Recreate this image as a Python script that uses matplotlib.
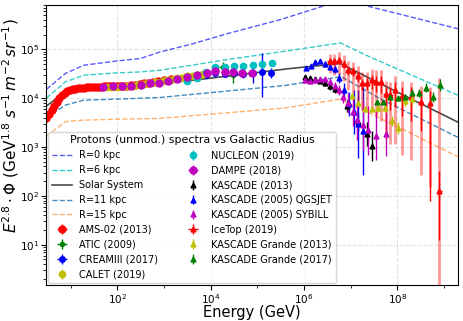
import numpy as np
import matplotlib
matplotlib.use('Agg')
import matplotlib.pyplot as plt
from matplotlib.ticker import FixedLocator, NullFormatter

width_px = 463
height_px = 321
dpi = 100

# propagated proton spectra, log10(E/GeV) vs log10(E^2.8 * flux)
r0_logE = [0.48, 0.886, 1.278, 1.994, 2.49, 2.92, 3.63, 4.36, 5.49, 6.84, 7.63, 9.30]
r0_logF = [4.18, 4.504, 4.673, 4.761, 4.81, 4.945, 5.116, 5.32, 5.606, 6.01, 5.82, 5.42]

r6_logE = [0.48, 0.886, 1.278, 1.99, 2.49, 2.92, 4.36, 5.49, 6.78, 7.42, 9.30]
r6_logF = [4.00, 4.333, 4.469, 4.517, 4.537, 4.571, 4.79, 4.945, 5.13, 4.84, 4.06]

sun_logE = [0.48, 0.886, 1.278, 2.0, 2.5, 3.0, 3.63, 5.70, 6.78, 7.63, 9.30]
sun_logF = [3.84, 4.13, 4.198, 4.23, 4.26, 4.31, 4.367, 4.606, 4.708, 4.30, 3.51]

r11_logE = [0.48, 0.886, 1.278, 1.99, 2.92, 5.6, 6.8, 7.63, 9.30]
r11_logF = [3.60, 3.857, 3.959, 3.98, 4.014, 4.26, 4.44, 3.99, 3.20]

r15_logE = [0.48, 0.886, 1.278, 2.0, 2.92, 5.6, 6.78, 8.0, 9.30]
r15_logF = [3.22, 3.52, 3.55, 3.57, 3.586, 3.80, 3.98, 3.42, 2.80]

# measurements (E in GeV, E^2.8 flux)
ams_E = [3.0, 3.4, 3.9, 4.4, 5.0, 5.7, 6.5, 7.4, 8.5, 9.7, 11, 12.6, 14.4, 16.5, 19, 22, 25, 29, 33,
         38, 44, 51, 60, 70, 82, 97, 115, 138, 165, 200, 245, 300, 370, 460, 580, 750, 1000, 1400]
ams_F = [3.9e3, 4.7e3, 5.7e3, 6.9e3, 8.3e3, 1.0e4, 1.15e4, 1.26e4, 1.39e4, 1.45e4, 1.52e4, 1.55e4,
         1.59e4, 1.63e4, 1.65e4, 1.68e4, 1.68e4, 1.70e4, 1.72e4, 1.73e4, 1.73e4, 1.74e4, 1.74e4,
         1.75e4, 1.77e4, 1.77e4, 1.77e4, 1.78e4, 1.81e4, 1.84e4, 1.88e4, 1.93e4, 2.0e4, 2.07e4,
         2.1e4, 2.2e4, 2.3e4, 2.45e4]

atic_logE = [1.7, 1.9, 2.1, 2.3, 2.5, 2.7, 2.9, 3.1, 3.3, 3.5, 3.7, 3.9, 4.1, 4.27, 4.48]
atic_F = [1.72e4, 1.76e4, 1.8e4, 1.85e4, 1.95e4, 2.05e4, 2.2e4, 2.4e4, 2.64e4, 2.95e4, 3.1e4,
          3.4e4, 3.8e4, 4.4e4, 2.95e4]
atic_err = [0.02, 0.02, 0.02, 0.02, 0.02, 0.03, 0.03, 0.03, 0.04, 0.04, 0.05, 0.06, 0.08, 0.1, 0.15]

cream_logE = [3.11, 3.30, 3.5, 3.7, 3.9, 4.1, 4.3, 4.5, 4.7, 4.9, 5.1, 5.3]
cream_F = [2.25e4, 2.45e4, 2.65e4, 2.85e4, 3.0e4, 3.2e4, 3.1e4, 3.25e4, 3.1e4, 3.2e4, 3.4e4, 3.3e4]
cream_up = [0.02, 0.02, 0.02, 0.02, 0.03, 0.03, 0.04, 0.05, 0.06, 0.15, 0.4, 0.1]
cream_dn = [0.02, 0.02, 0.02, 0.02, 0.03, 0.03, 0.04, 0.05, 0.07, 0.2, 0.5, 0.1]

calet_E = [50, 60, 72, 86, 103, 124, 149, 179, 215, 258, 310, 372, 447, 537, 645, 775, 930, 1120,
           1340, 1610, 1930, 2320, 2780, 3340, 4010, 4800, 5800, 7000]
calet_F = [1.68e4, 1.70e4, 1.71e4, 1.72e4, 1.73e4, 1.74e4, 1.76e4, 1.78e4, 1.80e4, 1.84e4, 1.88e4,
           1.94e4, 2.0e4, 2.05e4, 2.1e4, 2.17e4, 2.22e4, 2.3e4, 2.38e4, 2.45e4, 2.55e4, 2.62e4,
           2.7e4, 2.78e4, 2.85e4, 2.95e4, 3.0e4, 3.1e4]

nucleon_logE = [3.50, 3.71, 3.91, 4.10, 4.31, 4.51, 4.70, 4.91, 5.10, 5.32]
nucleon_F = [2.22e4, 2.62e4, 3.39e4, 4.3e4, 4.36e4, 4.57e4, 4.57e4, 4.79e4, 5.1e4, 5.25e4]

dampe_logE = [1.70, 1.914, 2.107, 2.30, 2.514, 2.71, 2.90, 3.09, 3.285, 3.50, 3.71, 3.93, 4.10,
              4.31, 4.48, 4.68, 4.89]
dampe_F = [1.70e4, 1.76e4, 1.78e4, 1.78e4, 1.87e4, 2.0e4, 2.09e4, 2.26e4, 2.5e4, 2.72e4, 3.0e4,
           3.34e4, 3.55e4, 3.44e4, 3.4e4, 3.34e4, 3.3e4]

kas13_logE = [6.026, 6.133, 6.24, 6.347, 6.454, 6.561, 6.668, 6.925, 7.16, 7.353, 7.46]
kas13_F = [2.68e4, 2.56e4, 2.41e4, 2.26e4, 2.0e4, 1.76e4, 1.51e4, 6.9e3, 3.24e3, 1.84e3, 1.05e3]
kas13_err = [0.04, 0.04, 0.05, 0.05, 0.06, 0.07, 0.08, 0.12, 0.18, 0.25, 0.3]

qgs_logE = [6.047, 6.154, 6.24, 6.347, 6.454, 6.561, 6.668, 6.754, 6.861, 6.968, 7.075, 7.16, 7.268]
qgs_F = [4.09e4, 4.5e4, 5.5e4, 5.77e4, 4.94e4, 4.36e4, 3.91e4, 2.59e4, 1.46e4, 7.55e3, 5.18e3,
         2.94e3, 2.12e3]
qgs_err = [0.04, 0.04, 0.05, 0.05, 0.06, 0.07, 0.08, 0.1, 0.15, 0.25, 0.45, 0.7, 0.9]

syb_logE = [6.026, 6.133, 6.24, 6.347, 6.454, 6.561, 6.668, 6.754, 6.84, 6.946, 7.053, 7.139,
            7.268, 7.375, 7.546, 7.76]
syb_F = [2.33e4, 2.22e4, 2.33e4, 2.44e4, 2.41e4, 2.15e4, 1.76e4, 1.46e4, 1.06e4, 7.9e3, 5.25e3,
         3.56e3, 2.81e3, 2.22e3, 1.70e3, 1.84e3]
syb_err = [0.05, 0.05, 0.05, 0.05, 0.06, 0.07, 0.08, 0.1, 0.13, 0.2, 0.3, 0.4, 0.5, 0.5, 0.5, 0.45]

ice_logE = [6.55, 6.65, 6.75, 6.85, 6.95, 7.05, 7.15, 7.25, 7.35, 7.45, 7.55, 7.65, 7.75, 7.85,
            7.95, 8.1, 8.3, 8.5, 8.7, 8.9]
ice_F = [5.77e4, 5.77e4, 6.1e4, 5.1e4, 3.73e4, 3.56e4, 2.81e4, 2.05e4, 2.05e4, 2.33e4, 2.15e4,
         2.12e4, 1.21e4, 1.15e4, 1.46e4, 1.10e4, 1.06e4, 8.4e3, 7.8e3, 128]
ice_stat_up = [0.06, 0.06, 0.06, 0.07, 0.07, 0.08, 0.08, 0.09, 0.1, 0.1, 0.12, 0.12, 0.14, 0.15,
               0.16, 0.18, 0.2, 0.22, 0.25, 0.4]
ice_stat_dn = [0.08, 0.08, 0.08, 0.09, 0.1, 0.1, 0.12, 0.14, 0.15, 0.17, 0.2, 0.22, 0.25, 0.3,
               0.35, 0.4, 0.5, 0.6, 2.0, 1.0]
ice_sys_up = [0.15, 0.15, 0.16, 0.17, 0.18, 0.18, 0.2, 0.22, 0.22, 0.22, 0.24, 0.25, 0.26, 0.27,
              0.28, 0.3, 0.3, 0.32, 0.34, 2.3]
ice_sys_dn = [0.25, 0.28, 0.3, 0.35, 0.4, 0.45, 0.5, 0.55, 0.6, 0.6, 0.7, 0.8, 0.9, 1.0, 1.1,
              1.2, 1.3, 1.5, 1.7, 2.0]

kg13_logE = [7.032, 7.16, 7.31, 7.46, 7.59, 7.74, 7.89, 8.017, 8.167, 8.317]
kg13_F = [1.11e4, 7.8e3, 5.88e3, 5.88e3, 6.16e3, 6.16e3, 3.44e3, 2.41e3, 8.8e3, 9.4e3]
kg13_err = [0.05, 0.05, 0.06, 0.06, 0.07, 0.08, 0.1, 0.12, 0.1, 0.12]

kg17_logE = [7.567, 7.696, 7.846, 8.017, 8.167, 8.317, 8.467, 8.617, 8.767, 8.917]
kg17_F = [8.4e3, 8.4e3, 1.06e4, 9.9e3, 1.06e4, 1.28e4, 1.28e4, 1.65e4, 1.06e4, 1.84e4]
kg17_err = [0.04, 0.04, 0.05, 0.05, 0.06, 0.07, 0.08, 0.09, 0.1, 0.12]

x_major = [1e2, 1e4, 1e6, 1e8]
x_minor = [1e1, 1e3, 1e5, 1e7, 1e9]


def dex_err(F, up, dn=None):
    F = np.array(F)
    up = np.array(up)
    dn = up if dn is None else np.array(dn)
    return [F * (1 - 10**-dn), F * (10**up - 1)]


def xbin(logE, half):
    E = 10**np.array(logE)
    return [E * (1 - 10**-half), E * (10**half - 1)]


fig, ax = plt.subplots(figsize=(width_px / dpi, height_px / dpi), dpi=dpi)
fig.subplots_adjust(left=0.100, right=0.989, bottom=0.112, top=0.984)

ax.plot(10**np.array(r0_logE), 10**np.array(r0_logF), '--', color='blue', alpha=0.65, lw=1, label='R=0 kpc')
ax.plot(10**np.array(r6_logE), 10**np.array(r6_logF), '--', color='c', alpha=0.8, lw=1, label='R=6 kpc')
ax.plot(10**np.array(sun_logE), 10**np.array(sun_logF), '-', color='k', alpha=0.7, lw=1.2, label='Solar System')
ax.plot(10**np.array(r11_logE), 10**np.array(r11_logF), '--', color='tab:blue', alpha=0.85, lw=1, label='R=11 kpc')
ax.plot(10**np.array(r15_logE), 10**np.array(r15_logF), '--', color='tab:orange', alpha=0.6, lw=1, label='R=15 kpc')

ams_E = np.array(ams_E)
ax.errorbar(ams_E, ams_F, xerr=[ams_E * 0.05, ams_E * 0.05], yerr=np.array(ams_F) * 0.02,
            fmt='o', color='red', ms=5, lw=1, label='AMS-02 (2013)')
ax.errorbar(10**np.array(atic_logE), atic_F, xerr=xbin(atic_logE, 0.08), yerr=dex_err(atic_F, atic_err),
            fmt='o', color='g', ms=3, lw=1, label='ATIC (2009)')
ax.errorbar(10**np.array(cream_logE), cream_F, xerr=xbin(cream_logE, 0.05),
            yerr=dex_err(cream_F, cream_up, cream_dn), fmt='o', color='blue', ms=4, lw=1, label='CREAMIII (2017)')
ax.errorbar(calet_E, calet_F, yerr=np.array(calet_F) * 0.03,
            fmt='o', color='y', ms=4.5, lw=1, label='CALET (2019)')
ax.errorbar(10**np.array(nucleon_logE), nucleon_F, yerr=dex_err(nucleon_F, [0.03] * 10),
            fmt='o', color='c', ms=4.5, lw=1, label='NUCLEON (2019)')
ax.errorbar(10**np.array(dampe_logE), dampe_F, xerr=xbin(dampe_logE, 0.08), yerr=np.array(dampe_F) * 0.03,
            fmt='o', color='m', ms=5, lw=1, label='DAMPE (2018)')
ax.errorbar(10**np.array(kas13_logE), kas13_F, yerr=dex_err(kas13_F, kas13_err),
            fmt='^', color='k', ms=3.5, lw=1, label='KASCADE (2013)')
ax.errorbar(10**np.array(qgs_logE), qgs_F, yerr=dex_err(qgs_F, qgs_err),
            fmt='^', color='blue', ms=3.5, lw=1, label='KASCADE (2005) QGSJET')
ax.errorbar(10**np.array(syb_logE), syb_F, yerr=dex_err(syb_F, syb_err),
            fmt='^', color='m', ms=3.5, lw=1, label='KASCADE (2005) SYBILL')
ax.errorbar(10**np.array(ice_logE), ice_F, yerr=dex_err(ice_F, ice_sys_up, ice_sys_dn),
            fmt='none', ecolor='red', alpha=0.4, lw=2)
ax.errorbar(10**np.array(ice_logE), ice_F, xerr=xbin(ice_logE, 0.05),
            yerr=dex_err(ice_F, ice_stat_up, ice_stat_dn),
            fmt='^', color='red', ms=3.5, lw=1, label='IceTop (2019)')
ax.errorbar(10**np.array(kg13_logE), kg13_F, yerr=dex_err(kg13_F, kg13_err),
            fmt='^', color='y', ms=3.5, lw=1, label='KASCADE Grande (2013)')
ax.errorbar(10**np.array(kg17_logE), kg17_F, yerr=dex_err(kg17_F, kg17_err),
            fmt='^', color='g', ms=3.5, lw=1, label='KASCADE Grande (2017)')

ax.set_xscale('log')
ax.set_yscale('log')
ax.set_xlim(3, 2e9)
ax.set_ylim(1.5, 8e5)
ax.xaxis.set_major_locator(FixedLocator(x_major))
ax.xaxis.set_minor_locator(FixedLocator(x_minor))
ax.xaxis.set_minor_formatter(NullFormatter())
ax.grid(True, which='major', ls='--', alpha=0.35)
ax.tick_params(labelsize=7.5, pad=1.5)
ax.set_xlabel('Energy (GeV)', fontsize=10.5)
ax.xaxis.set_label_coords(0.5, -0.07)
ax.set_ylabel(r'$E^{2.8} \cdot \Phi$ (GeV$^{1.8}$ $s^{-1}\, m^{-2}\, sr^{-1}$)', fontsize=11)
ax.yaxis.set_label_coords(-0.062, 0.57)

ax.legend(loc='lower left', ncol=2, fontsize=7, title='Protons (unmod.) spectra vs Galactic Radius',
          title_fontsize=7.9, labelspacing=0.5, borderaxespad=0.2, columnspacing=2.6)

fig.savefig('out.png', dpi=dpi)
